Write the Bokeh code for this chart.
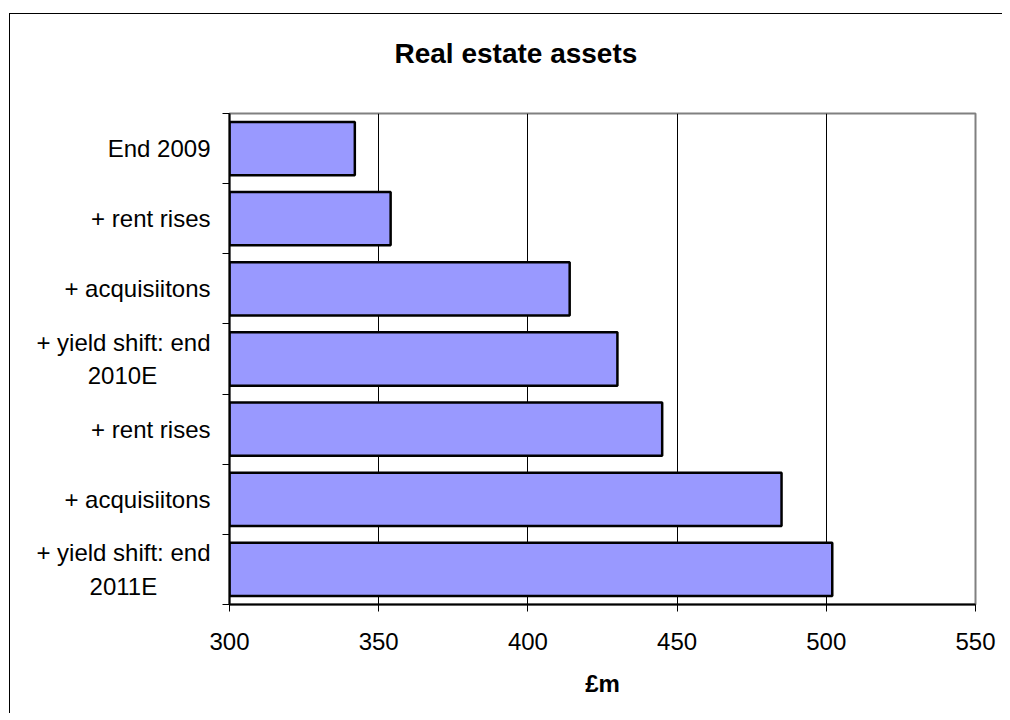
from bokeh.plotting import figure
from bokeh.models import Range1d, FixedTicker, Spacer, Title
from bokeh.layouts import column, row
from bokeh.embed import file_html
from bokeh.resources import INLINE

NB = "\u00a0"
title_text = "Real estate assets"
categories = ["End 2009", "+ rent rises", "+ acquisiitons", "+ yield shift: end\n2010E" + NB * 8,
              "+ rent rises", "+ acquisiitons", "+ yield shift: end\n2011E" + NB * 8]
values = [342, 354, 414, 430, 445, 485, 502]
x_ticks = [300, 350, 400, 450, 500, 550]

idx = list(range(len(categories)))
bounds = [i - 0.5 for i in range(len(categories) + 1)]

FONT = "Liberation Sans"

p = figure(width=993, height=700, output_backend="svg", toolbar_location=None,
           x_range=Range1d(300, 550), y_range=Range1d(len(categories) - 0.5, -0.5),
           min_border_left=219, min_border_right=28, min_border_top=99, min_border_bottom=110)
p.styles = {"border-left": "1.5px solid black", "border-top": "1.5px solid black"}

p.hbar(y=idx, left=300, right=values, height=0.76, fill_color="#9999FF",
       line_color="black", line_width=2.5)

# spacing element between frame and title
p.add_layout(Title(text=" ", text_font_size="1px", standoff=32), "above")
p.add_layout(Title(text=title_text, text_font=FONT, text_font_size="28px",
                   text_font_style="bold", text_color="black", align="left",
                   offset=165, standoff=20), "above")

p.outline_line_color = "#808080"
p.outline_line_width = 2
p.background_fill_color = "white"
p.border_fill_color = "white"

p.ygrid.visible = False
p.xgrid.ticker = FixedTicker(ticks=x_ticks)
p.xgrid.grid_line_color = "black"
p.xgrid.grid_line_width = 1

xa = p.xaxis[0]
xa.ticker = FixedTicker(ticks=x_ticks)
xa.axis_line_color = "black"
xa.axis_line_width = 2
xa.major_tick_out = 7
xa.major_tick_in = 0
xa.major_tick_line_color = "black"
xa.major_tick_line_width = 1
xa.minor_tick_line_color = None
xa.major_label_text_font = FONT
xa.major_label_text_font_size = "24px"
xa.major_label_text_color = "black"
xa.major_label_standoff = 21
xa.axis_label = "£m"
xa.axis_label_text_font = FONT
xa.axis_label_text_font_size = "24px"
xa.axis_label_text_font_style = "bold"
xa.axis_label_text_color = "black"
xa.axis_label_standoff = 17

ya = p.yaxis[0]
ya.ticker = FixedTicker(ticks=idx, minor_ticks=bounds)
ya.major_label_overrides = {i: c for i, c in zip(idx, categories)}
ya.axis_line_color = "black"
ya.axis_line_width = 2
ya.major_tick_line_color = None
ya.major_tick_out = 0
ya.major_tick_in = 0
ya.minor_tick_line_color = "black"
ya.minor_tick_out = 7
ya.minor_tick_in = 0
ya.minor_tick_line_width = 1
ya.major_label_text_font = FONT
ya.major_label_text_font_size = "24px"
ya.major_label_text_color = "black"
ya.major_label_text_line_height = 1.25
ya.major_label_standoff = 12

layout = column(Spacer(height=13), row(Spacer(width=9), p))

open("out.html", "w").write(file_html(layout, INLINE))
